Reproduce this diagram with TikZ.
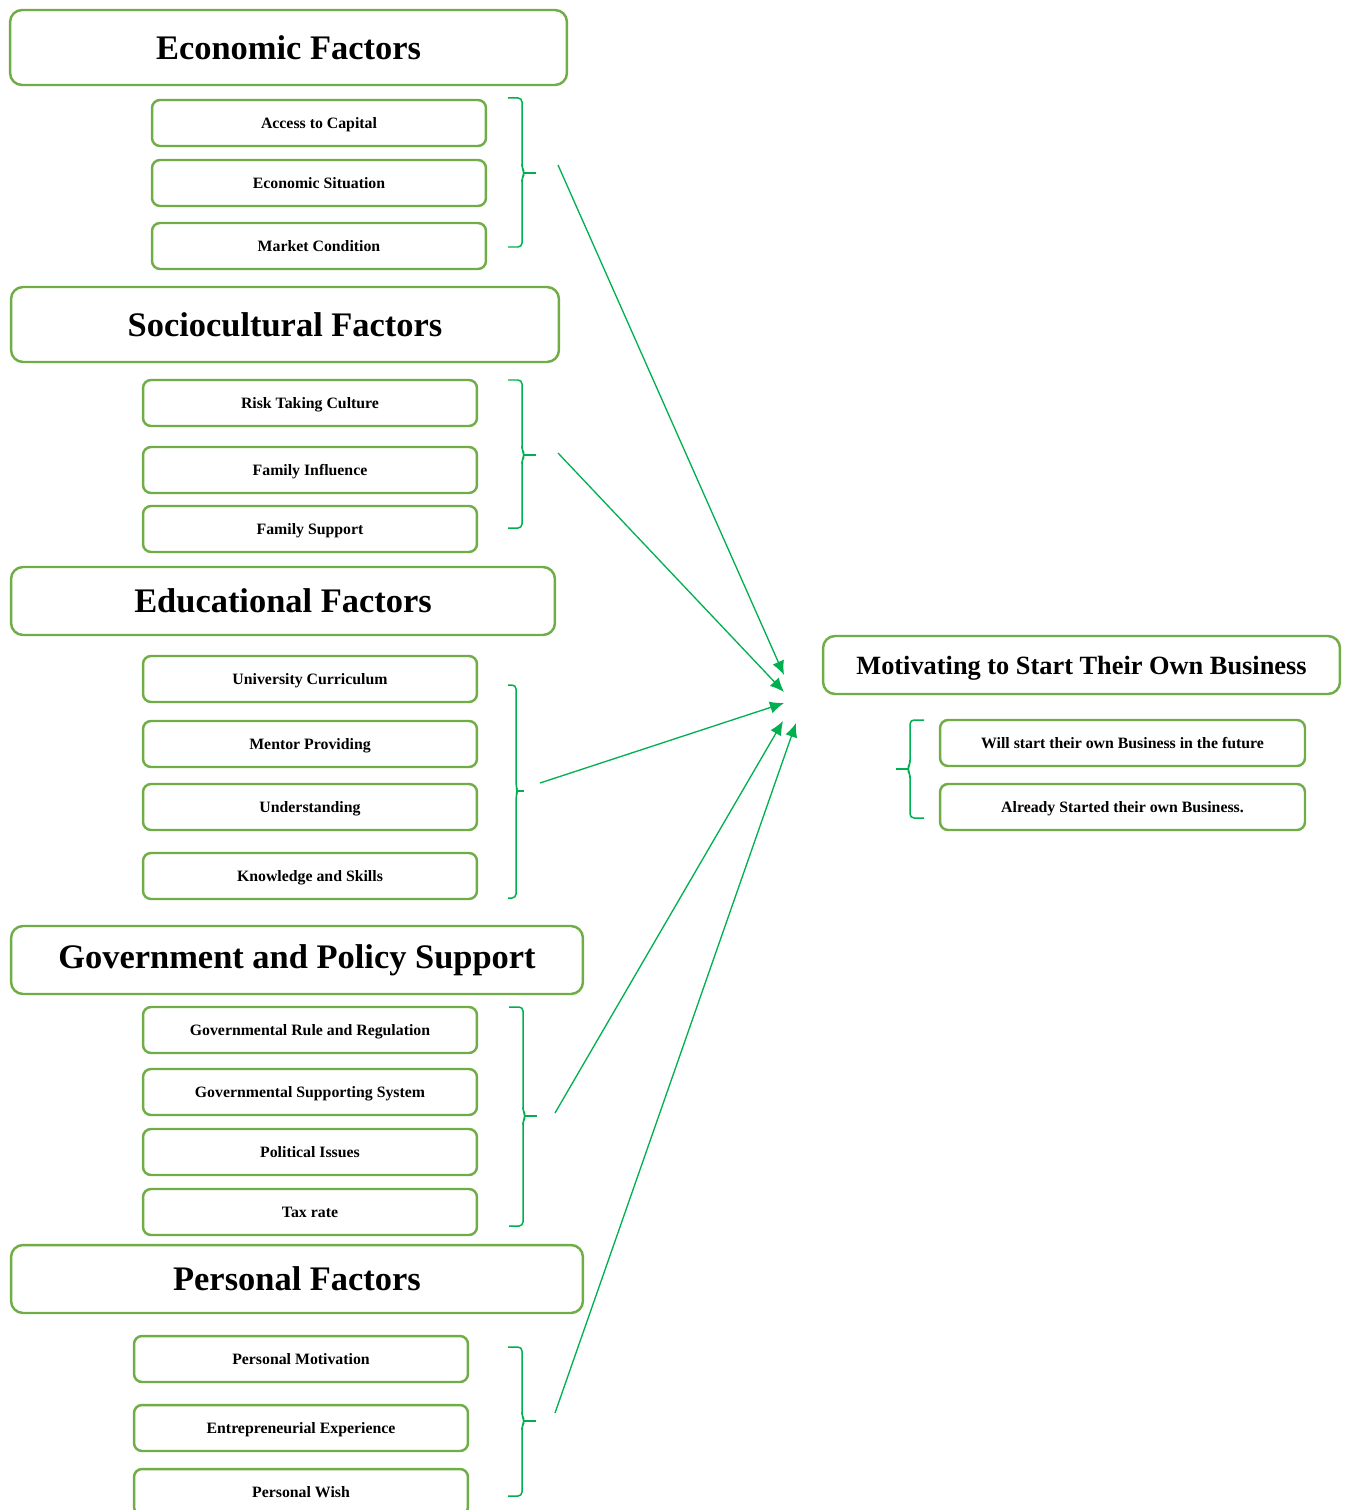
\documentclass[tikz,border=0pt]{standalone}
\usepackage{fontspec}
\setmainfont{Liberation Serif}
\usetikzlibrary{arrows.meta}
\definecolor{boxgreen}{RGB}{112,173,71}
\definecolor{linegreen}{RGB}{0,176,80}

% bracket: x of the ends, top, tip, bottom, half width (negative opens to the left)
\newcommand{\grpbrace}[5]{%
  \draw[grpline] (#1,#2) -- ({#1+#5},#2) -- ({#1+#5},{#3-5}) -- ({#1+1.2*#5},#3)
    -- ({#1+#5},{#3+5}) -- ({#1+#5},#4) -- (#1,#4);
  \draw[grpline] ({#1+1.15*#5},#3) -- ({#1+2*#5},#3);}

\begin{document}
\begin{tikzpicture}[x=0.02cm, y=-0.02cm,
  head/.style={draw=boxgreen, line width=1.4pt, rounded corners=0.24cm, minimum height=1.36cm, font=\bfseries\fontsize{19.6}{22}\selectfont},
  item/.style={draw=boxgreen, line width=1.4pt, rounded corners=0.16cm, minimum width=6.68cm, minimum height=0.92cm, text depth=0pt, font=\bfseries\fontsize{9}{11}\selectfont},
  grpline/.style={draw=linegreen, line width=0.85pt, rounded corners=0.08cm},
  link/.style={draw=linegreen, line width=0.75pt, -{Latex[length=8pt, width=7pt]}}]

  \useasboundingbox (0,0) rectangle (1349,1510);
  \clip (0,0) rectangle (1349,1510);

  % economic
  \node[head, minimum width=11.14cm, minimum height=1.5cm] (econ) at (288.5,47.5) {Economic Factors};
  \node[item] (econA) at (319,123) {Access to Capital};
  \node[item] (econB) at (319,183) {Economic Situation};
  \node[item] (econC) at (319,246) {Market Condition};

  % sociocultural
  \node[head, minimum width=10.96cm, minimum height=1.5cm] (socio) at (285,324.5) {Sociocultural Factors};
  \node[item] (socioA) at (310,403) {Risk Taking Culture};
  \node[item] (socioB) at (310,470) {Family Influence};
  \node[item] (socioC) at (310,529) {Family Support};

  % educational
  \node[head, minimum width=10.88cm] (edu) at (283,601) {Educational Factors};
  \node[item] (eduA) at (310,679) {University Curriculum};
  \node[item] (eduB) at (310,744) {Mentor Providing};
  \node[item] (eduC) at (310,807) {Understanding};
  \node[item] (eduD) at (310,876) {Knowledge and Skills};

  % government
  \node[head, minimum width=11.44cm] (gov) at (297,960) {Government and Policy Support};
  \node[item] (govA) at (310,1030) {Governmental Rule and Regulation};
  \node[item] (govB) at (310,1092) {Governmental Supporting System};
  \node[item] (govC) at (310,1152) {Political Issues};
  \node[item] (govD) at (310,1212) {Tax rate};

  % personal
  \node[head, minimum width=11.44cm] (pers) at (297,1279) {Personal Factors};
  \node[item] (persA) at (301,1359) {Personal Motivation};
  \node[item] (persB) at (301,1428) {Entrepreneurial Experience};
  \node[item] (persC) at (301,1492) {Personal Wish};

  % outcome
  \node[head, minimum width=10.34cm, minimum height=1.16cm, text depth=0pt, font=\bfseries\fontsize{15}{18}\selectfont] (motiv) at (1081.5,665) {Motivating to Start Their Own Business};
  \node[item, minimum width=7.3cm] (futA) at (1122.5,743) {Will start their own Business in the future};
  \node[item, minimum width=7.3cm] (futB) at (1122.5,807) {Already Started their own Business.};

  % brackets
  \grpbrace{508}{98}{173}{247}{14}
  \grpbrace{508}{380}{455}{528}{14}
  \grpbrace{508}{685}{791}{898}{8}
  \grpbrace{509}{1007}{1116}{1226}{14}
  \grpbrace{508}{1347}{1421}{1496}{14}
  \grpbrace{924}{720}{769}{818}{-14}

  % arrows into the outcome
  \coordinate (econOut) at (558,165);
  \coordinate (socioOut) at (558,453);
  \coordinate (eduOut) at (540,783);
  \coordinate (govOut) at (555,1113);
  \coordinate (persOut) at (555,1413);
  \coordinate (econIn) at (784,675);
  \coordinate (socioIn) at (784,692);
  \coordinate (eduIn) at (784,703);
  \coordinate (govIn) at (783,721);
  \coordinate (persIn) at (796,723);
  \draw[link] (econOut) -- (econIn);
  \draw[link] (socioOut) -- (socioIn);
  \draw[link] (eduOut) -- (eduIn);
  \draw[link] (govOut) -- (govIn);
  \draw[link] (persOut) -- (persIn);
\end{tikzpicture}
\end{document}
